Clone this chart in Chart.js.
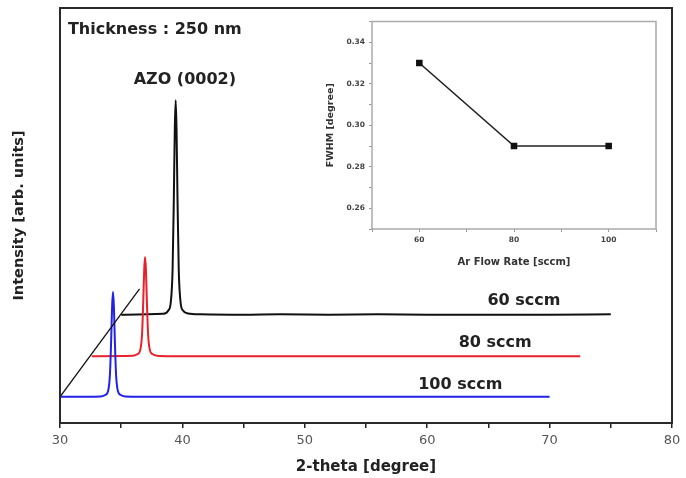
<!DOCTYPE html>
<html>
<head>
<meta charset="utf-8">
<script src="https://cdn.jsdelivr.net/npm/chart.js@4/dist/chart.umd.min.js"></script>
<style>
  body { margin: 0; background: #fff; }
  #wrap { position: relative; width: 686px; height: 478px; }
  #inset { position: absolute; left: 318px; top: 13px; width: 345px; height: 262px; }
</style>
</head>
<body>
<div id="wrap">
  <canvas id="miGrafica"></canvas>
  <div id="inset"><canvas id="miInset"></canvas></div>
</div>
<script>
// XRD scans (2-theta in degree, intensity in arb. units, curves stacked)
const theta_60 = [35.0, 38.45, 38.85, 39.05, 39.2, 39.3, 39.38, 39.45, 39.52, 39.6, 39.7, 39.85, 40.05, 40.45, 41.5, 45, 48, 52, 56, 60, 65, 70, 75.0];
const int_60   = [261, 263, 271, 291, 371, 541, 711, 778, 711, 541, 371, 291, 271, 264, 262, 261, 262, 261, 262, 261, 261, 261, 262];

const theta_80 = [32.6, 35.95, 36.35, 36.55, 36.7, 36.8, 36.88, 36.95, 37.02, 37.1, 37.2, 37.35, 37.55, 37.95, 39, 45, 50, 55, 60, 65, 72.5];
const int_80   = [161, 162, 166, 175, 212, 291, 370, 400, 370, 291, 212, 175, 166, 162, 161, 161, 161, 161, 161, 161, 161];

const theta_100 = [30.0, 33.33, 33.73, 33.93, 34.08, 34.18, 34.26, 34.33, 34.4, 34.48, 34.58, 34.73, 34.93, 35.33, 38, 45, 50, 55, 58, 62, 65, 70.0];
const int_100   = [63, 64, 68, 77, 117, 200, 283, 316, 283, 200, 117, 77, 68, 64, 63, 63, 63, 63, 63, 63, 63, 63];

// guide line drawn across the peak tops
const guia_x = [30, 36.5];
const guia_y = [63, 323];

const etiquetas_muestras = ['60 sccm', '80 sccm', '100 sccm'];
const colores_muestras = ['#111111', '#e8222a', '#2222e6'];
// label anchors [2-theta, intensity]
const pos_etiquetas = [[67.9, 294], [65.55, 193], [62.7, 92]];
const ticks_x = [30, 40, 50, 60, 70, 80];

// inset: FWHM vs Ar flow
const flujo_ar = [60, 80, 100];
const fwhm = [0.33, 0.29, 0.29];

const puntos = (xs, ys) => xs.map((x, i) => ({x: x, y: ys[i]}));

const marco = {
    id: 'marco',
    afterDatasetsDraw(chart, args, opts) {
        const {ctx, chartArea: a} = chart;
        ctx.save();
        ctx.strokeStyle = opts.color;
        ctx.lineWidth = opts.width;
        ctx.strokeRect(a.left, a.top, a.right - a.left, a.bottom - a.top);
        ctx.restore();
    }
};

const textos = {
    id: 'textos',
    afterDraw(chart) {
        const {ctx} = chart;
        const sx = chart.scales.x, sy = chart.scales.y;
        ctx.save();
        ctx.fillStyle = '#222';
        ctx.textBaseline = 'middle';
        ctx.font = 'bold 16px "DejaVu Sans"';
        ctx.textAlign = 'left';
        ctx.fillText('Thickness : 250 nm', sx.getPixelForValue(30.65), sy.getPixelForValue(947));
        ctx.textAlign = 'center';
        ctx.fillText('AZO (0002)', sx.getPixelForValue(40.2), sy.getPixelForValue(826));
        etiquetas_muestras.forEach((t, i) => {
            ctx.fillText(t, sx.getPixelForValue(pos_etiquetas[i][0]), sy.getPixelForValue(pos_etiquetas[i][1]));
        });
        ctx.restore();
    }
};

const grafica = new Chart(document.getElementById('miGrafica').getContext('2d'), {
    type: 'line',
    data: {
        datasets: [
            {data: puntos(guia_x, guia_y), borderColor: '#111', borderWidth: 1.3, pointRadius: 0},
            {label: etiquetas_muestras[2], data: puntos(theta_100, int_100), borderColor: colores_muestras[2], borderWidth: 2, pointRadius: 0, cubicInterpolationMode: 'monotone'},
            {label: etiquetas_muestras[1], data: puntos(theta_80, int_80), borderColor: colores_muestras[1], borderWidth: 2, pointRadius: 0, cubicInterpolationMode: 'monotone'},
            {label: etiquetas_muestras[0], data: puntos(theta_60, int_60), borderColor: colores_muestras[0], borderWidth: 2, pointRadius: 0, cubicInterpolationMode: 'monotone'}
        ]
    },
    options: {
        responsive: true,
        maintainAspectRatio: false,
        animation: false,
        layout: {padding: {top: 8, right: 14, left: 0, bottom: 0}},
        plugins: {legend: {display: false}, tooltip: {enabled: false}, marco: {color: '#2a2a2a', width: 2}},
        scales: {
            x: {
                type: 'linear', min: 30, max: 80,
                afterFit: (s) => { s.height = 55; },
                ticks: {
                    stepSize: 5, padding: 5, color: '#555',
                    font: {family: '"DejaVu Sans"', size: 13},
                    callback: (v) => ticks_x.includes(v) ? String(v) : ''
                },
                grid: {drawOnChartArea: false, tickLength: 5, color: '#222', lineWidth: 1.5},
                border: {display: false},
                title: {display: true, text: '2-theta [degree]', color: '#222', padding: {top: 0, bottom: 2},
                        font: {family: '"DejaVu Sans"', size: 15, weight: 'bold'}}
            },
            y: {
                min: 0, max: 1000,
                afterFit: (s) => { s.width = 60; },
                ticks: {display: false},
                grid: {display: false},
                border: {display: false},
                title: {display: true, text: 'Intensity [arb. units]', color: '#222', padding: {top: 11, bottom: 0},
                        font: {family: '"DejaVu Sans"', size: 14.5, weight: 'bold'}}
            }
        }
    },
    plugins: [marco, textos]
});

const inset = new Chart(document.getElementById('miInset').getContext('2d'), {
    type: 'line',
    data: {
        labels: flujo_ar,
        datasets: [{
            label: 'FWHM',
            data: puntos(flujo_ar, fwhm),
            borderColor: '#222', borderWidth: 1.6,
            pointStyle: 'rect', pointRadius: 3.5,
            pointBackgroundColor: '#111', pointBorderColor: '#111'
        }]
    },
    options: {
        responsive: true,
        maintainAspectRatio: false,
        animation: false,
        layout: {padding: {top: 8, right: 7, left: 0, bottom: 0}},
        plugins: {legend: {display: false}, tooltip: {enabled: false}, marco: {color: '#aaa', width: 1.5}},
        scales: {
            x: {
                type: 'linear', min: 50, max: 110,
                afterFit: (s) => { s.height = 46; },
                ticks: {
                    stepSize: 10, padding: 4, color: '#444',
                    font: {family: '"DejaVu Sans"', size: 7.5, weight: 'bold'},
                    callback: (v) => (v % 20 === 0 && v > 50 && v < 110) ? String(v) : ''
                },
                grid: {drawOnChartArea: false, tickLength: 3, color: '#999'},
                border: {display: false},
                title: {display: true, text: 'Ar Flow Rate [sccm]', color: '#333', padding: {top: 0, bottom: 7},
                        font: {family: '"DejaVu Sans"', size: 10, weight: 'bold'}}
            },
            y: {
                min: 0.25, max: 0.35,
                afterFit: (s) => { s.width = 54; },
                ticks: {
                    stepSize: 0.01, padding: 4, color: '#444',
                    font: {family: '"DejaVu Sans"', size: 7.5, weight: 'bold'},
                    callback: (v) => {
                        const c = Math.round(v * 100);
                        return (c % 2 === 0 && c > 25 && c < 35) ? (c / 100).toFixed(2) : '';
                    }
                },
                grid: {drawOnChartArea: false, tickLength: 3, color: '#999'},
                border: {display: false},
                title: {display: true, text: 'FWHM [degree]', color: '#333', padding: {top: 7, bottom: 0},
                        font: {family: '"DejaVu Sans"', size: 9.5, weight: 'bold'}}
            }
        }
    },
    plugins: [marco]
});
</script>
</body>
</html>
